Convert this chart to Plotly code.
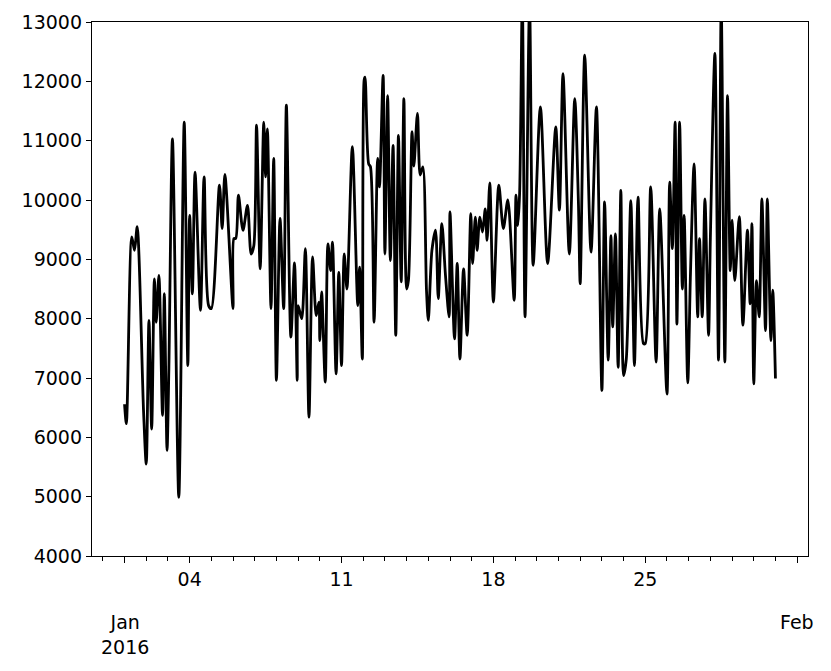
import pandas as pd
import plotly.graph_objects as go

# hours since 2016-01-01 00:00 and the series values
hours = [0, 2, 8, 11, 14, 21, 24, 27, 30, 33, 35, 38, 42, 44, 47, 49, 53, 60, 66, 70,
         72, 75, 78, 84, 88, 93, 96, 105, 108, 111, 120, 121, 123, 126, 131, 136, 140, 143, 146, 150,
         154, 156, 158, 162, 165, 168, 172, 176, 179, 184, 188, 191, 192, 196, 200, 204, 208, 212, 215, 216,
         218, 222, 225, 228, 230, 234, 237, 240, 243, 246, 252, 258, 260, 263, 265, 266, 270, 272, 276, 280,
         282, 286, 288, 291, 294, 297, 300, 303, 306, 309, 312, 314, 318, 320, 324, 327, 330, 334, 336, 340,
         344, 347, 351, 355, 359, 360, 365, 368, 371, 375, 379, 383, 385, 388, 390, 393, 396, 399, 401, 404,
         408, 414, 419, 424, 431, 433, 435, 437, 440, 443, 448, 452, 460, 468, 477, 481, 485, 492, 498, 502,
         504, 509, 516, 522, 528, 531, 535, 538, 540, 543, 546, 549, 552, 555, 560, 564, 568, 574, 576, 582,
         588, 592, 600, 603, 606, 609, 611, 614, 617, 619, 623, 626, 630, 634, 636, 639, 642, 646, 648, 653,
         657, 660, 664, 667, 670, 672, 675, 680, 684, 689, 692, 694, 696, 699, 702, 705, 709, 711, 715, 717,
         720]
values = [6560, 6230, 9380, 9150, 9550, 6450, 5550, 7970, 6140, 8670, 7940, 8730, 6370, 8420, 5780, 7130, 11030, 4990, 11310, 7210,
          9740, 8420, 10470, 8140, 10390, 8220, 8170, 10250, 9520, 10430, 8170, 9350, 9350, 10080, 9490, 9910, 9090, 9230, 11260, 8840,
          11310, 10390, 11200, 8170, 10700, 6960, 9690, 8170, 11600, 7690, 8940, 6960, 8220, 8000, 9180, 6340, 9040, 8050, 8280, 7630,
          8450, 6930, 9260, 8810, 9290, 7070, 8780, 7210, 9090, 8500, 10900, 8220, 8870, 7320, 12020, 12070, 10610, 10560, 7940, 10700,
          10220, 12100, 9090, 11760, 8980, 10920, 7720, 11090, 8620, 11710, 8500, 8640, 11150, 10570, 11460, 10420, 10560, 8480, 7970, 9150,
          9490, 8340, 9600, 8730, 8030, 9800, 7660, 8930, 7320, 8840, 7720, 9770, 8930, 9710, 9150, 9710, 9460, 9850, 9320, 10290,
          8280, 10250, 9520, 10000, 8310, 10080, 9570, 10110, 13400, 8030, 13300, 8900, 11570, 8930, 11230, 9830, 12130, 9090, 11710, 9990,
          8590, 12440, 9120, 11570, 6790, 9970, 7300, 9400, 7860, 9430, 7180, 10160, 7040, 7320, 9990, 7210, 10050, 7580, 7580, 10220,
          7270, 9850, 6730, 10300, 9180, 11310, 7910, 11310, 8500, 9740, 6920, 8760, 10610, 8030, 9350, 8030, 10020, 7720, 9350, 12470,
          7300, 13300, 7270, 11760, 8810, 9660, 8640, 9720, 7890, 9490, 8250, 9600, 6900, 8640, 8030, 10020, 7800, 10020, 7630, 8480,
          6990]

major_ticks = ["2016-01-01", "2016-01-04", "2016-01-11", "2016-01-18", "2016-01-25", "2016-02-01"]
major_text = ["", "04", "11", "18", "25", ""]
month_ticks = ["2016-01-01", "2016-02-01"]
month_text = ["Jan<br>2016", "Feb"]

start = pd.Timestamp("2016-01-01")
times = [start + pd.Timedelta(hours=h) for h in hours]

FONT = "DejaVu Sans"

fig = go.Figure()
fig.add_trace(go.Scatter(
    x=times, y=values, mode="lines",
    line=dict(color="black", width=2.8, shape="spline", smoothing=0.8),
    showlegend=False, hoverinfo="skip"))

for d, t in zip(month_ticks, month_text):
    fig.add_annotation(x=d, xref="x", y=-0.1, yref="paper", text=t,
                       showarrow=False, yanchor="top", xanchor="center",
                       font=dict(family=FONT, size=19, color="black"))

fig.update_layout(
    width=823, height=663,
    margin=dict(l=84, r=23, t=14, b=115, autoexpand=False),
    paper_bgcolor="white", plot_bgcolor="white",
    font=dict(family=FONT, size=19, color="black"),
    xaxis=dict(
        range=["2015-12-30 12:00", "2016-02-01 12:00"],
        automargin=False,
        showgrid=False, zeroline=False,
        showline=True, linecolor="black", linewidth=1.3, mirror=True,
        ticks="outside", ticklen=6, tickwidth=1.2, tickcolor="black",
        tickmode="array", tickvals=major_ticks, ticktext=major_text,
        minor=dict(ticks="outside", ticklen=4, tickwidth=1.2, tickcolor="black",
                   dtick=86400000, tick0="2016-01-01", showgrid=False),
        tickfont=dict(family=FONT, size=19, color="black"),
    ),
    yaxis=dict(
        range=[4000, 13000], dtick=1000, tick0=0,
        automargin=False,
        showgrid=False, zeroline=False,
        showline=True, linecolor="black", linewidth=1.3, mirror=True,
        ticks="outside", ticklen=5, tickwidth=1.2, tickcolor="black",
        tickformat="d",
        tickfont=dict(family=FONT, size=19, color="black"),
    ),
)

fig.write_html("out.html")
